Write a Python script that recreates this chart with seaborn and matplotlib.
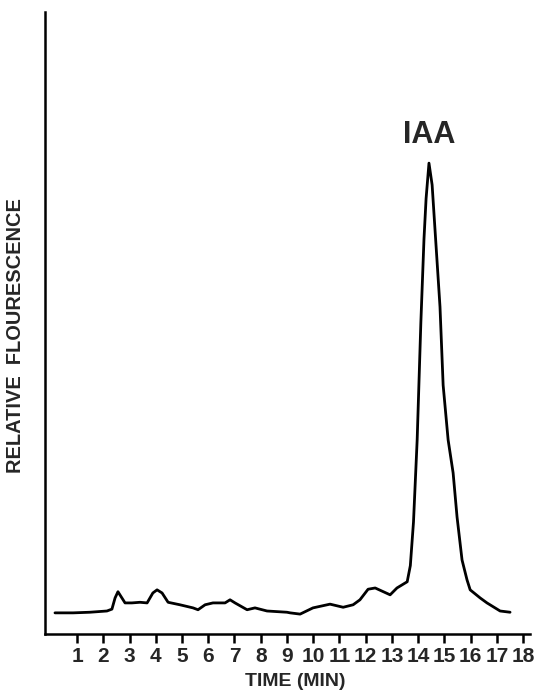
import matplotlib
matplotlib.use("Agg")
import matplotlib.pyplot as plt
import seaborn as sns
import pandas as pd

# chromatogram trace (time in min, relative fluorescence 0-100)
time_min = [0.16, 0.85, 1.49, 2.14, 2.33, 2.45, 2.56, 2.68, 2.83, 3.09,
            3.40, 3.67, 3.89, 4.05, 4.24, 4.47, 4.92, 5.42, 5.61, 5.88,
            6.18, 6.64, 6.83, 7.02, 7.48, 7.78, 8.24, 9.00, 9.12, 9.50,
            9.99, 10.64, 11.14, 11.52, 11.78, 12.09, 12.36, 12.93, 13.19, 13.58,
            13.70, 13.82, 13.96, 14.10, 14.22, 14.30, 14.41, 14.53, 14.64, 14.83,
            14.95, 15.14, 15.33, 15.48, 15.67, 15.86, 15.98, 16.36, 16.62, 17.12,
            17.50]
fluor = [3.4, 3.4, 3.5, 3.7, 4.0, 5.8, 6.8, 6.0, 5.0, 5.0,
         5.1, 5.0, 6.6, 7.1, 6.6, 5.1, 4.7, 4.2, 3.9, 4.7,
         5.0, 5.0, 5.5, 5.0, 3.9, 4.2, 3.7, 3.5, 3.4, 3.2,
         4.2, 4.8, 4.3, 4.7, 5.5, 7.2, 7.4, 6.3, 7.4, 8.4,
         11.0, 18.0, 31.2, 50.0, 63.5, 70.0, 75.7, 72.2, 65.0, 52.6,
         40.0, 31.2, 25.9, 18.8, 11.9, 8.7, 7.1, 5.8, 5.0, 3.7,
         3.5]
tick_vals = list(range(1, 19))
peak_label = "IAA"
peak_time = 14.41

df = pd.DataFrame({"time": time_min, "fluor": fluor})

sns.set_style("ticks")
plt.rcParams["font.family"] = ["Liberation Sans", "DejaVu Sans"]
plt.rcParams["font.weight"] = "bold"

fig = plt.figure(figsize=(5.37, 6.92), dpi=100)
ax = fig.add_axes([0.0838, 0.0838, 0.9032, 0.8989])

sns.lineplot(data=df, x="time", y="fluor", ax=ax, color="black", linewidth=2.0,
             solid_joinstyle="round", solid_capstyle="round")

ax.set_xlim(-0.22, 18.26)
ax.set_ylim(0, 100)
ax.set_xticks(tick_vals)
ax.set_xticklabels([str(t) for t in tick_vals], fontsize=15, fontweight="bold")
ax.set_yticks([])
ax.tick_params(axis="x", direction="out", length=6.5, width=1.8, pad=3, color="black")

for side in ["top", "right"]:
    ax.spines[side].set_visible(False)
for side in ["left", "bottom"]:
    ax.spines[side].set_linewidth(1.8)
    ax.spines[side].set_color("black")

ax.set_xlabel("TIME (MIN)", fontsize=14, fontweight="bold", va="top")
ax.xaxis.set_label_coords(0.515, -0.062)
ax.set_ylabel("RELATIVE  FLOURESCENCE", fontsize=14.4, fontweight="bold")
ax.yaxis.set_label_coords(-0.041, 0.48)

ax.text(peak_time, 78.9, peak_label, ha="center", va="baseline",
        fontsize=22, fontweight="bold")

fig.savefig("out.png", dpi=100)
